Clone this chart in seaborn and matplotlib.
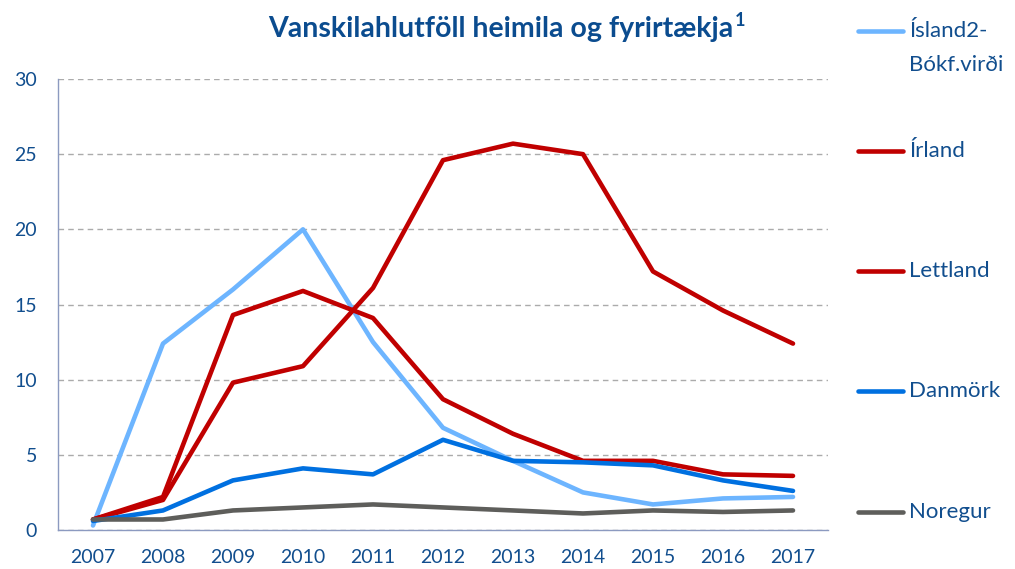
import pandas as pd
import matplotlib
matplotlib.use("Agg")
import matplotlib.pyplot as plt
import seaborn as sns

# data
years = ["2007", "2008", "2009", "2010", "2011", "2012", "2013", "2014", "2015", "2016", "2017"]
island = [0.3, 12.4, 16.0, 20.0, 12.5, 6.8, 4.6, 2.5, 1.7, 2.1, 2.2]
irland = [0.7, 2.0, 9.8, 10.9, 16.1, 24.6, 25.7, 25.0, 17.2, 14.6, 12.4]
lettland = [0.7, 2.2, 14.3, 15.9, 14.1, 8.7, 6.4, 4.6, 4.6, 3.7, 3.6]
danmork = [0.6, 1.3, 3.3, 4.1, 3.7, 6.0, 4.6, 4.5, 4.3, 3.3, 2.6]
noregur = [0.7, 0.7, 1.3, 1.5, 1.7, 1.5, 1.3, 1.1, 1.3, 1.2, 1.3]

labels = ["Ísland2-\nBókf.virði", "Írland", "Lettland", "Danmörk", "Noregur"]
colors = ["#6DB5FF", "#C00000", "#C00000", "#0070E0", "#5E5E5B"]

series = [island, irland, lettland, danmork, noregur]
rows = []
for lab, vals in zip(labels, series):
    for y, v in zip(years, vals):
        rows.append({"year": y, "value": v, "country": lab})
df = pd.DataFrame(rows)

sns.set_theme(style="white")
plt.rcParams['font.family'] = ['Lato', 'DejaVu Sans']

text_col = "#114E8E"
axis_col = "#8C9AC0"

W, H = 1015, 569
fig = plt.figure(figsize=(W / 100, H / 100), dpi=100)
ax = fig.add_axes([58 / W, 1 - 530 / H, 770 / W, 451 / H])

sns.lineplot(data=df, x="year", y="value", hue="country", hue_order=labels,
             palette=dict(zip(labels, colors)), linewidth=3.3, legend=False,
             ax=ax, sort=False)

ax.set_xlim(-0.5, len(years) - 0.5)
ax.set_ylim(0, 30)
ax.set_yticks(range(0, 31, 5))
ax.yaxis.grid(True, linestyle=(0, (4, 3)), color="#ABABAB", linewidth=1)
ax.set_axisbelow(True)
ax.set_xlabel("")
ax.set_ylabel("")

# tick marks at category boundaries, labels in the middle
ax.set_xticks(range(len(years)))
ax.set_xticklabels(years)
ax.set_xticks([i - 0.5 for i in range(len(years) + 1)], minor=True)
ax.tick_params(axis="x", which="major", length=0, pad=14, labelsize=14, labelcolor=text_col)
ax.tick_params(axis="x", which="minor", length=7, width=1, color=axis_col, direction="out")
ax.tick_params(axis="y", which="major", length=7, width=1, color=axis_col, direction="out",
               pad=8, labelsize=14, labelcolor=text_col)

for side in ["top", "right"]:
    ax.spines[side].set_visible(False)
for side in ["left", "bottom"]:
    ax.spines[side].set_color(axis_col)
    ax.spines[side].set_linewidth(1)

# title with superscript footnote mark
title_col = "#0B4C8F"
t = fig.text(268 / W, 1 - 37 / H, "Vanskilahlutföll heimila og fyrirtækja",
             ha="left", va="baseline", fontsize=20.5, fontweight="bold", color=title_col)
renderer = fig.canvas.get_renderer()
bb = t.get_window_extent(renderer)
fig.text((bb.x1 + 2) / W, 1 - 26 / H, "1", ha="left", va="baseline",
         fontsize=13, fontweight="bold", color=title_col)

# legend on the right
leg_y = [31, 151, 271, 391, 512]
for lab, col, yy in zip(labels, colors, leg_y):
    fy = 1 - yy / H
    fig.add_artist(plt.Line2D([858 / W, 903 / W], [fy, fy], color=col,
                              linewidth=3.3, solid_capstyle="round"))
    for k, part in enumerate(lab.split("\n")):
        fig.text(909 / W, 1 - (yy + 34 * k) / H, part, ha="left", va="center",
                 fontsize=16, color=text_col)

fig.savefig("out.png", dpi=100)
